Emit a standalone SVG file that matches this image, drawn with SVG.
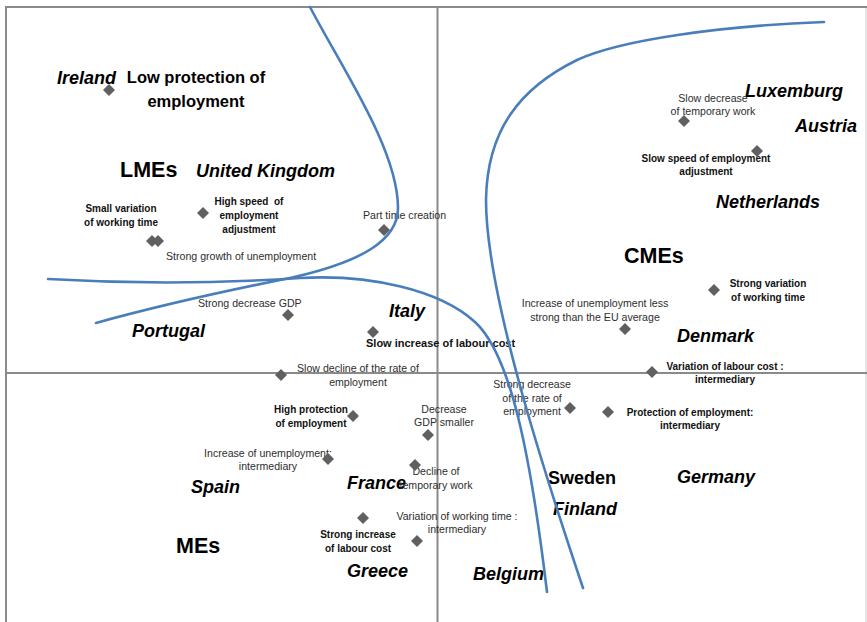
<svg xmlns="http://www.w3.org/2000/svg" xmlns:xlink="http://www.w3.org/1999/xlink" width="867" height="622" viewBox="0 0 867 622">
<style>
  text { font-family: "Liberation Sans", Arial, sans-serif; }
  .c { font-size: 18px; font-weight: bold; font-style: italic; fill: #000; }
  .cu { font-size: 18px; font-weight: bold; fill: #000; }
  .g { font-size: 21.5px; font-weight: bold; fill: #000; }
  .b { font-size: 10px; font-weight: bold; fill: #111; text-anchor: middle; }
  .r { font-size: 10.6px; fill: #2e2e2e; }
  .m { text-anchor: middle; }
  .axis { stroke: #8a8a8a; stroke-width: 2; fill: none; }
  .curve { stroke: #4a7ebb; stroke-width: 2.6; fill: none; stroke-linecap: round; }
  .pt { fill: #606060; }
</style>
<defs>
  <path id="d" d="M0,-6 L6,0 L0,6 L-6,0 Z"/>
</defs>
<rect x="0" y="0" width="867" height="622" fill="#fff"/>
<g id="frame">
  <line x1="6" y1="7" x2="867" y2="7" class="axis"/>
  <line x1="6" y1="6" x2="6" y2="622" class="axis"/>
  <line x1="866" y1="8" x2="866" y2="622" stroke="#dcdcdc" stroke-width="1.5"/>
</g>
<g id="axes">
  <line x1="437.5" y1="7" x2="437.5" y2="622" class="axis"/>
  <line x1="6" y1="373" x2="867" y2="373" class="axis"/>
</g>

<g id="groups">
  <text id="LMEs" class="g" x="120" y="177">LMEs</text>
  <text id="CMEs" class="g" x="624" y="263">CMEs</text>
  <text id="MEs" class="g" x="176" y="553">MEs</text>
</g>

<g id="countries">
  <text id="ireland" class="c" x="57" y="84">Ireland</text>
  <text id="uk" class="c" x="196" y="177">United Kingdom</text>
  <text id="portugal" class="c" x="132" y="337">Portugal</text>
  <text id="italy" class="c" x="389" y="317">Italy</text>
  <text id="luxemburg" class="c" x="745" y="97">Luxemburg</text>
  <text id="austria" class="c" x="795" y="132">Austria</text>
  <text id="netherlands" class="c" x="716" y="208">Netherlands</text>
  <text id="denmark" class="c" x="677" y="342">Denmark</text>
  <text id="spain" class="c" x="191" y="493">Spain</text>
  <text id="france" class="c" x="347" y="489">France</text>
  <text id="greece" class="c" x="347" y="577">Greece</text>
  <text id="belgium" class="c" x="473" y="580">Belgium</text>
  <text id="sweden" class="cu" x="548" y="484">Sweden</text>
  <text id="finland" class="c" x="553" y="515">Finland</text>
  <text id="germany" class="c" x="677" y="483">Germany</text>
</g>

<g id="labels">
  <g id="n-low-protection">
    <text x="196" y="83" class="m" font-size="16.5" font-weight="bold">Low protection of</text>
    <text x="196" y="107" class="m" font-size="16.5" font-weight="bold">employment</text>
  </g>
  <g id="n-small-variation">
    <text class="b" x="121" y="212">Small variation</text>
    <text class="b" x="121" y="226">of working time</text>
  </g>
  <g id="n-high-speed">
    <text class="b" x="249" y="205" xml:space="preserve">High speed  of</text>
    <text class="b" x="249" y="219">employment</text>
    <text class="b" x="249" y="233">adjustment</text>
  </g>
  <g id="n-strong-growth">
    <text class="r" x="166" y="260">Strong growth of unemployment</text>
  </g>
  <g id="n-part-time">
    <text class="r" x="363" y="219">Part time creation</text>
  </g>
  <g id="n-strong-decrease-gdp">
    <text class="r" x="198" y="307">Strong decrease GDP</text>
  </g>
  <g id="n-slow-increase-labour">
    <text x="366" y="347" font-size="11" font-weight="bold" fill="#111">Slow increase of labour cost</text>
  </g>
  <g id="n-slow-decline-rate">
    <text class="r m" x="358" y="372">Slow decline of the rate of</text>
    <text class="r m" x="358" y="386">employment</text>
  </g>
  <g id="n-slow-decrease-temp">
    <text class="r m" x="713" y="102">Slow decrease</text>
    <text class="r m" x="713" y="115">of temporary work</text>
  </g>
  <g id="n-slow-speed">
    <text class="b" x="706" y="162">Slow speed of employment</text>
    <text class="b" x="706" y="175">adjustment</text>
  </g>
  <g id="n-strong-variation">
    <text class="b" x="768" y="287">Strong variation</text>
    <text class="b" x="768" y="301">of working time</text>
  </g>
  <g id="n-increase-unemp-less">
    <text class="r m" x="595" y="307">Increase of unemployment less</text>
    <text class="r m" x="595" y="321">strong than the EU average</text>
  </g>
  <g id="n-variation-labour">
    <text class="b" x="725" y="370">Variation of labour cost :</text>
    <text class="b" x="725" y="383">intermediary</text>
  </g>
  <g id="n-strong-decrease-rate">
    <text class="r m" x="532" y="388">Strong decrease</text>
    <text class="r m" x="532" y="402">of the rate of</text>
    <text class="r m" x="532" y="415">employment</text>
  </g>
  <g id="n-protection-intermediary">
    <text class="b" x="690" y="416">Protection of employment:</text>
    <text class="b" x="690" y="429">intermediary</text>
  </g>
  <g id="n-high-protection">
    <text class="b" x="311" y="413">High protection</text>
    <text class="b" x="311" y="427">of employment</text>
  </g>
  <g id="n-decrease-gdp-smaller">
    <text class="r m" x="444" y="413">Decrease</text>
    <text class="r m" x="444" y="426">GDP smaller</text>
  </g>
  <g id="n-increase-unemp-inter">
    <text class="r m" x="268" y="457">Increase of unemployment:</text>
    <text class="r m" x="268" y="470">intermediary</text>
  </g>
  <g id="n-decline-temp">
    <text class="r m" x="436" y="475">Decline of</text>
    <text class="r m" x="436" y="489">temporary work</text>
  </g>
  <g id="n-variation-working-inter">
    <text class="r m" x="457" y="520">Variation of working time :</text>
    <text class="r m" x="457" y="533">intermediary</text>
  </g>
  <g id="n-strong-increase-labour">
    <text class="b" x="358" y="538">Strong increase</text>
    <text class="b" x="358" y="552">of labour cost</text>
  </g>
</g>

<g id="connectors">
  <path class="curve" d="M310,7 C343,70 398,150 398,208 C398,240 362,262 290,278 C220,292 150,308 96,323"/>
  <path class="curve" d="M48,279 C150,285 240,282 300,278 C370,274 440,290 475,322 C510,354 530,450 547,592"/>
  <path class="curve" d="M824,22 C720,26 620,40 577,60 C520,88 487,130 486,200 C486,290 540,460 583,588"/>
</g>

<g id="points" class="pt">
  <use xlink:href="#d" x="109" y="90"/>
  <use xlink:href="#d" x="203" y="213"/>
  <use xlink:href="#d" x="152" y="241"/>
  <use xlink:href="#d" x="158" y="241"/>
  <use xlink:href="#d" x="384" y="230"/>
  <use xlink:href="#d" x="288" y="315"/>
  <use xlink:href="#d" x="373" y="332"/>
  <use xlink:href="#d" x="281" y="375"/>
  <use xlink:href="#d" x="684" y="121"/>
  <use xlink:href="#d" x="757" y="151"/>
  <use xlink:href="#d" x="714" y="290"/>
  <use xlink:href="#d" x="625" y="329"/>
  <use xlink:href="#d" x="652" y="372"/>
  <use xlink:href="#d" x="608" y="412"/>
  <use xlink:href="#d" x="570" y="408"/>
  <use xlink:href="#d" x="353" y="416"/>
  <use xlink:href="#d" x="428" y="435"/>
  <use xlink:href="#d" x="328" y="459"/>
  <use xlink:href="#d" x="415" y="465"/>
  <use xlink:href="#d" x="363" y="518"/>
  <use xlink:href="#d" x="417" y="541"/>
</g>
</svg>
